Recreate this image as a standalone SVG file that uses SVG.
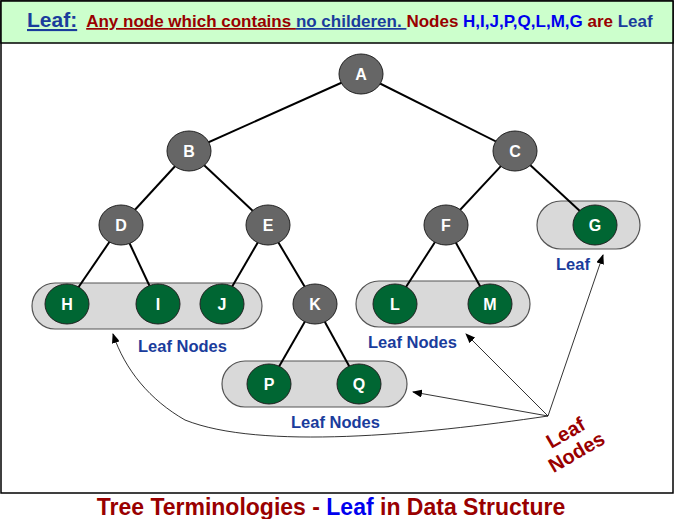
<svg xmlns="http://www.w3.org/2000/svg" width="675" height="519" viewBox="0 0 675 519">
<style>
.e{stroke:#000;stroke-width:2}
.n ellipse{stroke:#222;stroke-width:1}
.gr{fill:#666}.gn{fill:#006633}
.t{font-family:"Liberation Sans",Arial,sans-serif;font-weight:bold;font-size:16px;fill:#fff;text-anchor:middle}
.box{fill:#d9d9d9;stroke:#555;stroke-width:1.2}
.lb{font-family:"Liberation Sans",Arial,sans-serif;font-weight:bold;font-size:16.5px;fill:#1a3c9c}
.ar{stroke:#000;stroke-width:0.8;fill:none;marker-end:url(#ah)}
</style>
<defs><marker id="ah" markerWidth="10" markerHeight="8" refX="9" refY="4" orient="auto" markerUnits="userSpaceOnUse"><path d="M0,0L10,4L0,8z" fill="#000"/></marker></defs>
<rect x="0" y="0" width="675" height="519" fill="#fff"/>
<rect x="1" y="1" width="672" height="492" fill="#fff" stroke="#000" stroke-width="1.5"/>
<rect x="1" y="1" width="672" height="42" fill="#ccffcc" stroke="#000" stroke-width="1.5"/>
<text x="27" y="27" font-family="Liberation Sans,Arial,sans-serif" font-weight="bold" font-size="17"><tspan fill="#1a3c9c" font-size="21" text-decoration="underline">Leaf:</tspan><tspan fill="#990000" dx="9" text-decoration="underline">Any node which contains </tspan><tspan fill="#1a3c9c" text-decoration="underline">no childeren. </tspan><tspan fill="#990000">Nodes </tspan><tspan fill="#0000ee">H,I,J,P,Q,L,M,G </tspan><tspan fill="#990000">are </tspan><tspan fill="#1a3c9c">Leaf</tspan></text>
<g id="boxes">
<rect class="box" x="32" y="283" width="230" height="46" rx="23"/>
<rect class="box" x="356" y="281" width="174" height="46" rx="23"/>
<rect class="box" x="222" y="361" width="185" height="46" rx="23"/>
<rect class="box" x="537" y="201" width="103" height="48" rx="24"/>
</g>
<g id="connectors">
<line class="e" x1="361" y1="74" x2="189" y2="151"/><line class="e" x1="361" y1="74" x2="515" y2="151"/>
<line class="e" x1="189" y1="151" x2="121" y2="225"/><line class="e" x1="189" y1="151" x2="268" y2="225"/>
<line class="e" x1="515" y1="151" x2="446" y2="225"/><line class="e" x1="515" y1="151" x2="595" y2="225"/>
<line class="e" x1="121" y1="225" x2="67" y2="304"/><line class="e" x1="121" y1="225" x2="158" y2="304"/>
<line class="e" x1="268" y1="225" x2="222" y2="304"/><line class="e" x1="268" y1="225" x2="315" y2="304"/>
<line class="e" x1="446" y1="225" x2="395" y2="304"/><line class="e" x1="446" y1="225" x2="490" y2="304"/>
<line class="e" x1="315" y1="304" x2="269" y2="384"/><line class="e" x1="315" y1="304" x2="359" y2="384"/>
<path class="ar" d="M548,416L603,255"/>
<path class="ar" d="M548,416L466,334"/>
<path class="ar" d="M548,416L413,392"/>
<path class="ar" d="M548,416C420,435 260,450 185,420C150,400 125,370 113,334"/>
</g>
<g class="n">
<g id="A"><ellipse class="gr" cx="361" cy="74" rx="22" ry="20"/><text class="t" x="361" y="80">A</text></g>
<g id="B"><ellipse class="gr" cx="189" cy="151" rx="22" ry="20"/><text class="t" x="189" y="157">B</text></g>
<g id="C"><ellipse class="gr" cx="515" cy="151" rx="22" ry="20"/><text class="t" x="515" y="157">C</text></g>
<g id="D"><ellipse class="gr" cx="121" cy="225" rx="22" ry="20"/><text class="t" x="121" y="231">D</text></g>
<g id="E"><ellipse class="gr" cx="268" cy="225" rx="22" ry="20"/><text class="t" x="268" y="231">E</text></g>
<g id="F"><ellipse class="gr" cx="446" cy="225" rx="22" ry="20"/><text class="t" x="446" y="231">F</text></g>
<g id="K"><ellipse class="gr" cx="315" cy="304" rx="22" ry="20"/><text class="t" x="315" y="310">K</text></g>
<g id="G"><ellipse class="gn" cx="595" cy="225" rx="22" ry="20"/><text class="t" x="595" y="231">G</text></g>
<g id="H"><ellipse class="gn" cx="67" cy="304" rx="22" ry="20"/><text class="t" x="67" y="310">H</text></g>
<g id="I"><ellipse class="gn" cx="158" cy="304" rx="22" ry="20"/><text class="t" x="158" y="310">I</text></g>
<g id="J"><ellipse class="gn" cx="222" cy="304" rx="22" ry="20"/><text class="t" x="222" y="310">J</text></g>
<g id="L"><ellipse class="gn" cx="395" cy="304" rx="22" ry="20"/><text class="t" x="395" y="310">L</text></g>
<g id="M"><ellipse class="gn" cx="490" cy="304" rx="22" ry="20"/><text class="t" x="490" y="310">M</text></g>
<g id="P"><ellipse class="gn" cx="269" cy="384" rx="22" ry="20"/><text class="t" x="269" y="390">P</text></g>
<g id="Q"><ellipse class="gn" cx="359" cy="384" rx="22" ry="20"/><text class="t" x="359" y="390">Q</text></g>
</g>
<text class="lb" x="138" y="352">Leaf Nodes</text>
<text class="lb" x="368" y="348">Leaf Nodes</text>
<text class="lb" x="291" y="428">Leaf Nodes</text>
<text class="lb" x="556" y="270">Leaf</text>
<g transform="translate(572,444) rotate(-30)" font-family="Liberation Sans,Arial,sans-serif" font-weight="bold" font-size="20" fill="#990000" text-anchor="middle"><text x="0" y="-6">Leaf</text><text x="0" y="16">Nodes</text></g>
<text x="331" y="515" text-anchor="middle" font-family="Liberation Sans,Arial,sans-serif" font-weight="bold" font-size="23" fill="#990000">Tree Terminologies - <tspan fill="#0000ee">Leaf</tspan> in Data Structure</text>
</svg>
